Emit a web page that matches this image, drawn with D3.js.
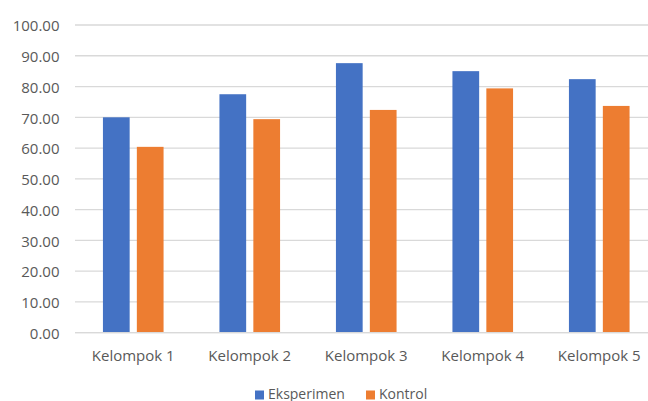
<!DOCTYPE html>
<html>
<head>
<meta charset="utf-8">
<script src="https://cdn.jsdelivr.net/npm/d3@7"></script>
<style>
  html, body { margin: 0; padding: 0; background: #fff; overflow: hidden; }
  svg { display: block; font-family: "Open Sans", sans-serif; }
</style>
</head>
<body>
<svg id="chart" width="648" height="401"></svg>
<script>
// Group names, series names and values
const categories = ["Kelompok 1", "Kelompok 2", "Kelompok 3", "Kelompok 4", "Kelompok 5"];
const seriesNames = ["Eksperimen", "Kontrol"];
const eksperimen = [70.0, 77.5, 87.6, 85.0, 82.4];
const kontrol = [60.4, 69.4, 72.4, 79.4, 73.7];
const yTicks = [0, 10, 20, 30, 40, 50, 60, 70, 80, 90, 100];

const colors = { "Eksperimen": "#4472C4", "Kontrol": "#ED7D31" };
const seriesValues = { "Eksperimen": eksperimen, "Kontrol": kontrol };

const svg = d3.select("#chart");

// Plot area (extends slightly past the right edge of the canvas)
const plotLeft = 75, plotRight = 657.5, plotTop = 25, plotBottom = 332.7;

const y = d3.scaleLinear().domain([0, 100]).range([plotBottom, plotTop]);
const x0 = d3.scaleBand().domain(categories).range([plotLeft, plotRight]).padding(0);
const x1 = d3.scaleBand().domain(seriesNames).range([0, x0.bandwidth()])
  .paddingInner(0.212).paddingOuter(0.824);

// Horizontal gridlines
svg.append("g").selectAll("line")
  .data(yTicks)
  .join("line")
  .attr("x1", plotLeft).attr("x2", 648)
  .attr("y1", d => y(d)).attr("y2", d => y(d))
  .attr("stroke", "#d9d9d9")
  .attr("stroke-width", 1.3);

// Y tick labels
svg.append("g").selectAll("text")
  .data(yTicks)
  .join("text")
  .attr("x", 59.5)
  .attr("y", d => y(d) + 1)
  .attr("dy", "0.35em")
  .attr("text-anchor", "end")
  .attr("font-size", 15)
  .attr("fill", "#595959")
  .text(d => d3.format(".2f")(d));

// Bars
const rows = categories.map((c, i) => ({
  cat: c,
  vals: seriesNames.map(s => ({ s, v: seriesValues[s][i] }))
}));

svg.append("g").selectAll("g")
  .data(rows)
  .join("g")
  .attr("transform", d => `translate(${x0(d.cat)},0)`)
  .selectAll("rect")
  .data(d => d.vals)
  .join("rect")
  .attr("x", d => x1(d.s))
  .attr("width", x1.bandwidth())
  .attr("y", d => y(d.v))
  .attr("height", d => y(0) - y(d.v))
  .attr("fill", d => colors[d.s]);

// Baseline
svg.append("line")
  .attr("x1", plotLeft).attr("x2", 648)
  .attr("y1", y(0)).attr("y2", y(0))
  .attr("stroke", "#d9d9d9")
  .attr("stroke-width", 1.3);

// Category labels
svg.append("g").selectAll("text")
  .data(categories)
  .join("text")
  .attr("x", d => x0(d) + x0.bandwidth() / 2)
  .attr("y", 361)
  .attr("text-anchor", "middle")
  .attr("font-size", 15)
  .attr("fill", "#595959")
  .text(d => d);

// Legend
const legendItems = [
  { name: "Eksperimen", sx: 255, tx: 268 },
  { name: "Kontrol", sx: 366, tx: 379 }
];
const lg = svg.append("g");
lg.selectAll("rect")
  .data(legendItems)
  .join("rect")
  .attr("x", d => d.sx).attr("y", 390.5)
  .attr("width", 9).attr("height", 9)
  .attr("fill", d => colors[d.name]);
lg.selectAll("text")
  .data(legendItems)
  .join("text")
  .attr("x", d => d.tx).attr("y", 398.5)
  .attr("font-size", 14)
  .attr("fill", "#595959")
  .text(d => d.name);
</script>
</body>
</html>
